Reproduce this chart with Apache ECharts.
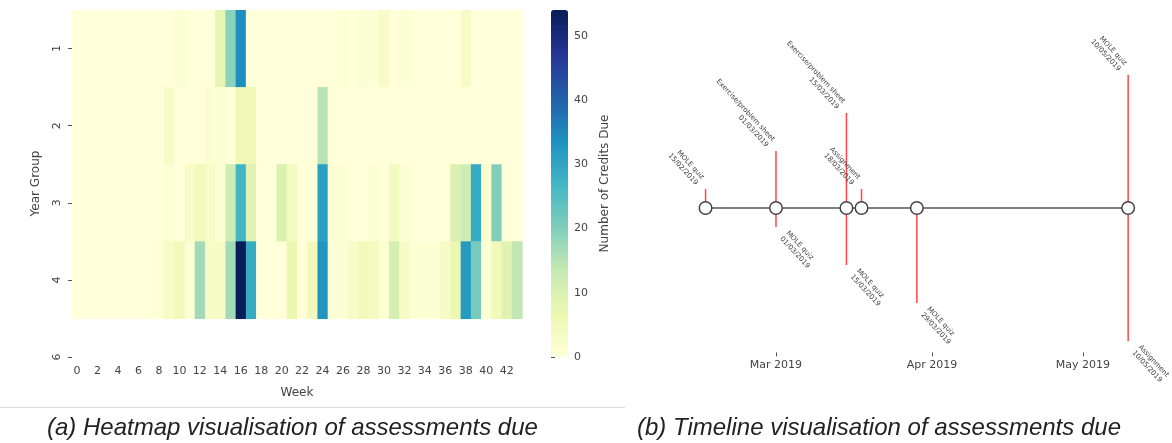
<!DOCTYPE html>
<html>
<head>
<meta charset="utf-8">
<script src="https://cdn.jsdelivr.net/npm/echarts@6/dist/echarts.min.js"></script>
<style>
  html, body { margin: 0; padding: 0; background: #fff; }
  #chart { width: 1172px; height: 443px; }
</style>
</head>
<body>
<div id="chart"></div>
<script>
// ---------- Heatmap data ----------
const weeks = ['0','1','2','3','4','5','6','7','8','9','10','11','12','13','14','15','16','17','18','19','20','21',
               '22','23','24','25','26','27','28','29','30','31','32','33','34','35','36','37','38','39','40','41','42','43'];
const yearGroups = ['1', '2', '3', '4', '6'];
const year1 = [0,0,0,0,0,0,0,0,0,0, 1,0,0,0,8,19,34,0,0,0, 0,0,0,0,0,0,1,0,1,1, 3,0,1,0,0,0,0,0,3,0, 0,0,0,0];
const year2 = [0,0,0,0,0,0,0,0,0,3, 0,0,0,2,1,0,6,6,0,0, 0,0,0,0,15,0,0,0,0,0, 0,0,0,0,0,0,0,0,0,0, 0,0,0,0];
const year3 = [0,0,0,0,0,0,0,0,0,1, 0,3,5,3,1,12,27,9,0,0, 10,4,0,0,31,1,1,0,0,1, 0,4,1,0,0,0,0,10,12,29, 2,20,0,0];
const year4 = [0,0,0,0,0,0,0,0,1,3, 5,1,17,3,3,17,54,29,0,0, 0,7,0,5,33,1,1,3,5,4, 1,11,3,1,1,1,3,7,32,21, 1,5,9,14];
const year6 = []; // no data (blank row)
const colorbarMax = 54;

// ---------- Timeline data ----------
const eventDates  = ['2019-02-15','2019-03-01','2019-03-01','2019-03-15','2019-03-15','2019-03-18','2019-03-29','2019-05-10','2019-05-10'];
const eventNames  = ['MOLE quiz','Exercise/problem sheet','MOLE quiz','Exercise/problem sheet','MOLE quiz','Assignment','MOLE quiz','MOLE quiz','Assignment'];
const eventLevels = [1, 3, -1, 5, -3, 1, -5, 7, -7];
const monthTickDates  = ['2019-03-01','2019-04-01','2019-05-01'];
const monthTickLabels = ['Mar 2019','Apr 2019','May 2019'];
const timelineStart = '2019-02-10';
const timelineEnd   = '2019-05-15';

// ---------- helpers ----------
function ts(s) { const p = s.split('-').map(Number); return Date.UTC(p[0], p[1] - 1, p[2]); }
function fmt(s) { const p = s.split('-'); return p[2] + '/' + p[1] + '/' + p[0]; }

const heatRows = [year1, year2, year3, year4, year6];
const heatData = [];
heatRows.forEach(function (row, r) {
  row.forEach(function (v, c) { heatData.push([c, r, v]); });
});

const eventData = eventDates.map(function (d, i) { return [ts(d), eventLevels[i], i]; });
const eventLabels = eventDates.map(function (d, i) { return eventNames[i] + '\n' + fmt(d); });
const uniqueDates = Array.from(new Set(eventDates)).map(function (d) { return [ts(d), 0]; });
const baseLine = [[ts(eventDates[0]), 0], [ts(eventDates[eventDates.length - 1]), 0]];
const monthTickValues = monthTickDates.map(ts);

const LABEL_FONT_SIZE = 7;
const LABEL_LINE_H = 8.5;
const LABEL_FONT = LABEL_FONT_SIZE + 'px "DejaVu Sans"';
const measureCtx = document.createElement('canvas').getContext('2d');
measureCtx.font = LABEL_FONT;
const THETA = 47 * Math.PI / 180;

const FONT = 'DejaVu Sans';
const TXT = '#444';

const chart = echarts.init(document.getElementById('chart'), null, { renderer: 'canvas' });

const option = {
  backgroundColor: '#fff',
  animation: false,
  title: [
    { text: '(a) Heatmap visualisation of assessments due', left: 47, top: 416, padding: 0,
      textStyle: { fontFamily: 'Liberation Sans', fontStyle: 'italic', fontWeight: 'normal', fontSize: 24, color: '#222' } },
    { text: '(b) Timeline visualisation of assessments due', left: 637, top: 416, padding: 0,
      textStyle: { fontFamily: 'Liberation Sans', fontStyle: 'italic', fontWeight: 'normal', fontSize: 24, color: '#222' } }
  ],
  graphic: [
    { type: 'line', shape: { x1: 0, y1: 407.5, x2: 625, y2: 407.5 }, style: { stroke: '#dcdcdc', lineWidth: 1 } }
  ],
  grid: [
    { left: 72, top: 10, width: 450, height: 347 },            // heatmap
    { left: 551, top: 10, width: 17, height: 347 },            // colorbar axis
    { left: 680.4, top: 63.6, width: 472.9, height: 288.8 }    // timeline
  ],
  xAxis: [
    {
      gridIndex: 0, type: 'category', data: weeks, boundaryGap: true,
      name: 'Week', nameLocation: 'middle', nameGap: 30,
      nameTextStyle: { fontFamily: FONT, fontSize: 12, color: TXT },
      axisLine: { show: false },
      axisTick: { show: true, interval: 1, alignWithLabel: true, length: 4, lineStyle: { color: '#555' } },
      axisLabel: { interval: 1, fontFamily: FONT, fontSize: 11, color: TXT, margin: 9 },
      splitLine: { show: false }
    },
    { gridIndex: 1, type: 'value', show: false, min: 0, max: 1 },
    {
      gridIndex: 2, type: 'value', min: ts(timelineStart), max: ts(timelineEnd),
      axisLine: { show: false, onZero: false },
      axisTick: { show: true, length: 4, customValues: monthTickValues, lineStyle: { color: '#555' } },
      axisLabel: {
        fontFamily: FONT, fontSize: 11, color: TXT, margin: 7,
        customValues: monthTickValues,
        formatter: function (v) { const i = monthTickValues.indexOf(v); return i >= 0 ? monthTickLabels[i] : ''; }
      },
      splitLine: { show: false }
    }
  ],
  yAxis: [
    {
      gridIndex: 0, type: 'value', min: 0, max: 4.5, inverse: true,
      name: 'Year Group', nameLocation: 'middle', nameGap: 30, nameRotate: 90,
      nameTextStyle: { fontFamily: FONT, fontSize: 12, color: TXT },
      axisLine: { show: false },
      axisTick: { show: true, length: 4, customValues: [0.5, 1.5, 2.5, 3.5, 4.5], lineStyle: { color: '#555' } },
      axisLabel: {
        rotate: 90, fontFamily: FONT, fontSize: 11, color: TXT, margin: 9,
        customValues: [0.5, 1.5, 2.5, 3.5, 4.5],
        formatter: function (v) { return yearGroups[Math.round(v - 0.5)]; }
      },
      splitLine: { show: false }
    },
    {
      gridIndex: 1, type: 'value', min: 0, max: colorbarMax, interval: 10, position: 'right',
      name: 'Number of Credits Due', nameLocation: 'middle', nameGap: 31, nameRotate: 90,
      nameTextStyle: { fontFamily: FONT, fontSize: 12, color: TXT },
      axisLine: { show: false },
      axisTick: { show: true, length: 4, lineStyle: { color: '#555' } },
      axisLabel: { fontFamily: FONT, fontSize: 11, color: TXT, margin: 6, showMaxLabel: false },
      splitLine: { show: false }
    },
    { gridIndex: 2, type: 'value', min: -7.6, max: 7.6, show: false }
  ],
  visualMap: {
    type: 'continuous', seriesIndex: 0, dimension: 2,
    min: 0, max: colorbarMax, calculable: false, realtime: false,
    orient: 'vertical', left: 551, top: 10, itemWidth: 17, itemHeight: 347, padding: 0,
    text: null, showLabel: false,
    inRange: { color: ['#ffffd9','#edf8b1','#c7e9b4','#7fcdbb','#41b6c4','#1d91c0','#225ea8','#253494','#081d58'] }
  },
  series: [
    {
      type: 'custom', xAxisIndex: 0, yAxisIndex: 0, data: heatData, encode: { x: 0, y: 1 },
      silent: true,
      renderItem: function (params, api) {
        const c = api.value(0), r = api.value(1);
        const p0 = api.coord([c, r]);
        const p1 = api.coord([c, r + 1]);
        const w = api.size([1, 0])[0];
        return {
          type: 'rect',
          shape: { x: p0[0] - w / 2, y: Math.min(p0[1], p1[1]), width: w + 0.6, height: Math.abs(p1[1] - p0[1]) + 0.6 },
          style: { fill: api.visual('color') }
        };
      }
    },
    {
      type: 'custom', xAxisIndex: 2, yAxisIndex: 2, data: eventData, encode: { x: 0, y: 1 },
      silent: true, z: 1,
      renderItem: function (params, api) {
        const d = api.value(0), l = api.value(1), idx = api.value(2);
        const p0 = api.coord([d, 0]);
        const p1 = api.coord([d, l]);
        const txt = eventLabels[idx];
        const lines = txt.split('\n');
        let L = 0;
        lines.forEach(function (s) { L = Math.max(L, measureCtx.measureText(s).width); });
        const H = lines.length * LABEL_LINE_H;
        const bw = L * Math.cos(THETA) + H * Math.sin(THETA);
        const bh = L * Math.sin(THETA) + H * Math.cos(THETA);
        let cx, cy, ax, ay, align;
        if (l > 0) {
          cx = p1[0] + 0.5 - bw / 2; cy = p1[1] - 2 - bh / 2;
          ax = cx + (L / 2) * Math.cos(THETA); ay = cy + (L / 2) * Math.sin(THETA); align = 'right';
        } else {
          cx = p1[0] + 2 + bw / 2; cy = p1[1] + 2 + bh / 2;
          ax = cx - (L / 2) * Math.cos(THETA); ay = cy - (L / 2) * Math.sin(THETA); align = 'left';
        }
        return {
          type: 'group',
          children: [
            { type: 'line', shape: { x1: p0[0], y1: p0[1], x2: p1[0], y2: p1[1] },
              style: { stroke: '#ff4545', lineWidth: 1.5 } },
            { type: 'text', x: ax, y: ay, rotation: -THETA,
              style: { text: txt, fill: '#444', font: LABEL_FONT, lineHeight: LABEL_LINE_H,
                       align: align, verticalAlign: 'middle' } }
          ]
        };
      }
    },
    {
      type: 'line', xAxisIndex: 2, yAxisIndex: 2, data: baseLine, z: 2, silent: true,
      symbol: 'none', lineStyle: { color: '#555', width: 1.5 }
    },
    {
      type: 'scatter', xAxisIndex: 2, yAxisIndex: 2, data: uniqueDates, z: 3, silent: true,
      symbol: 'circle', symbolSize: 12.5,
      itemStyle: { color: '#fff', borderColor: '#444', borderWidth: 1.5, opacity: 1 }
    }
  ]
};

chart.setOption(option);
</script>
</body>
</html>
